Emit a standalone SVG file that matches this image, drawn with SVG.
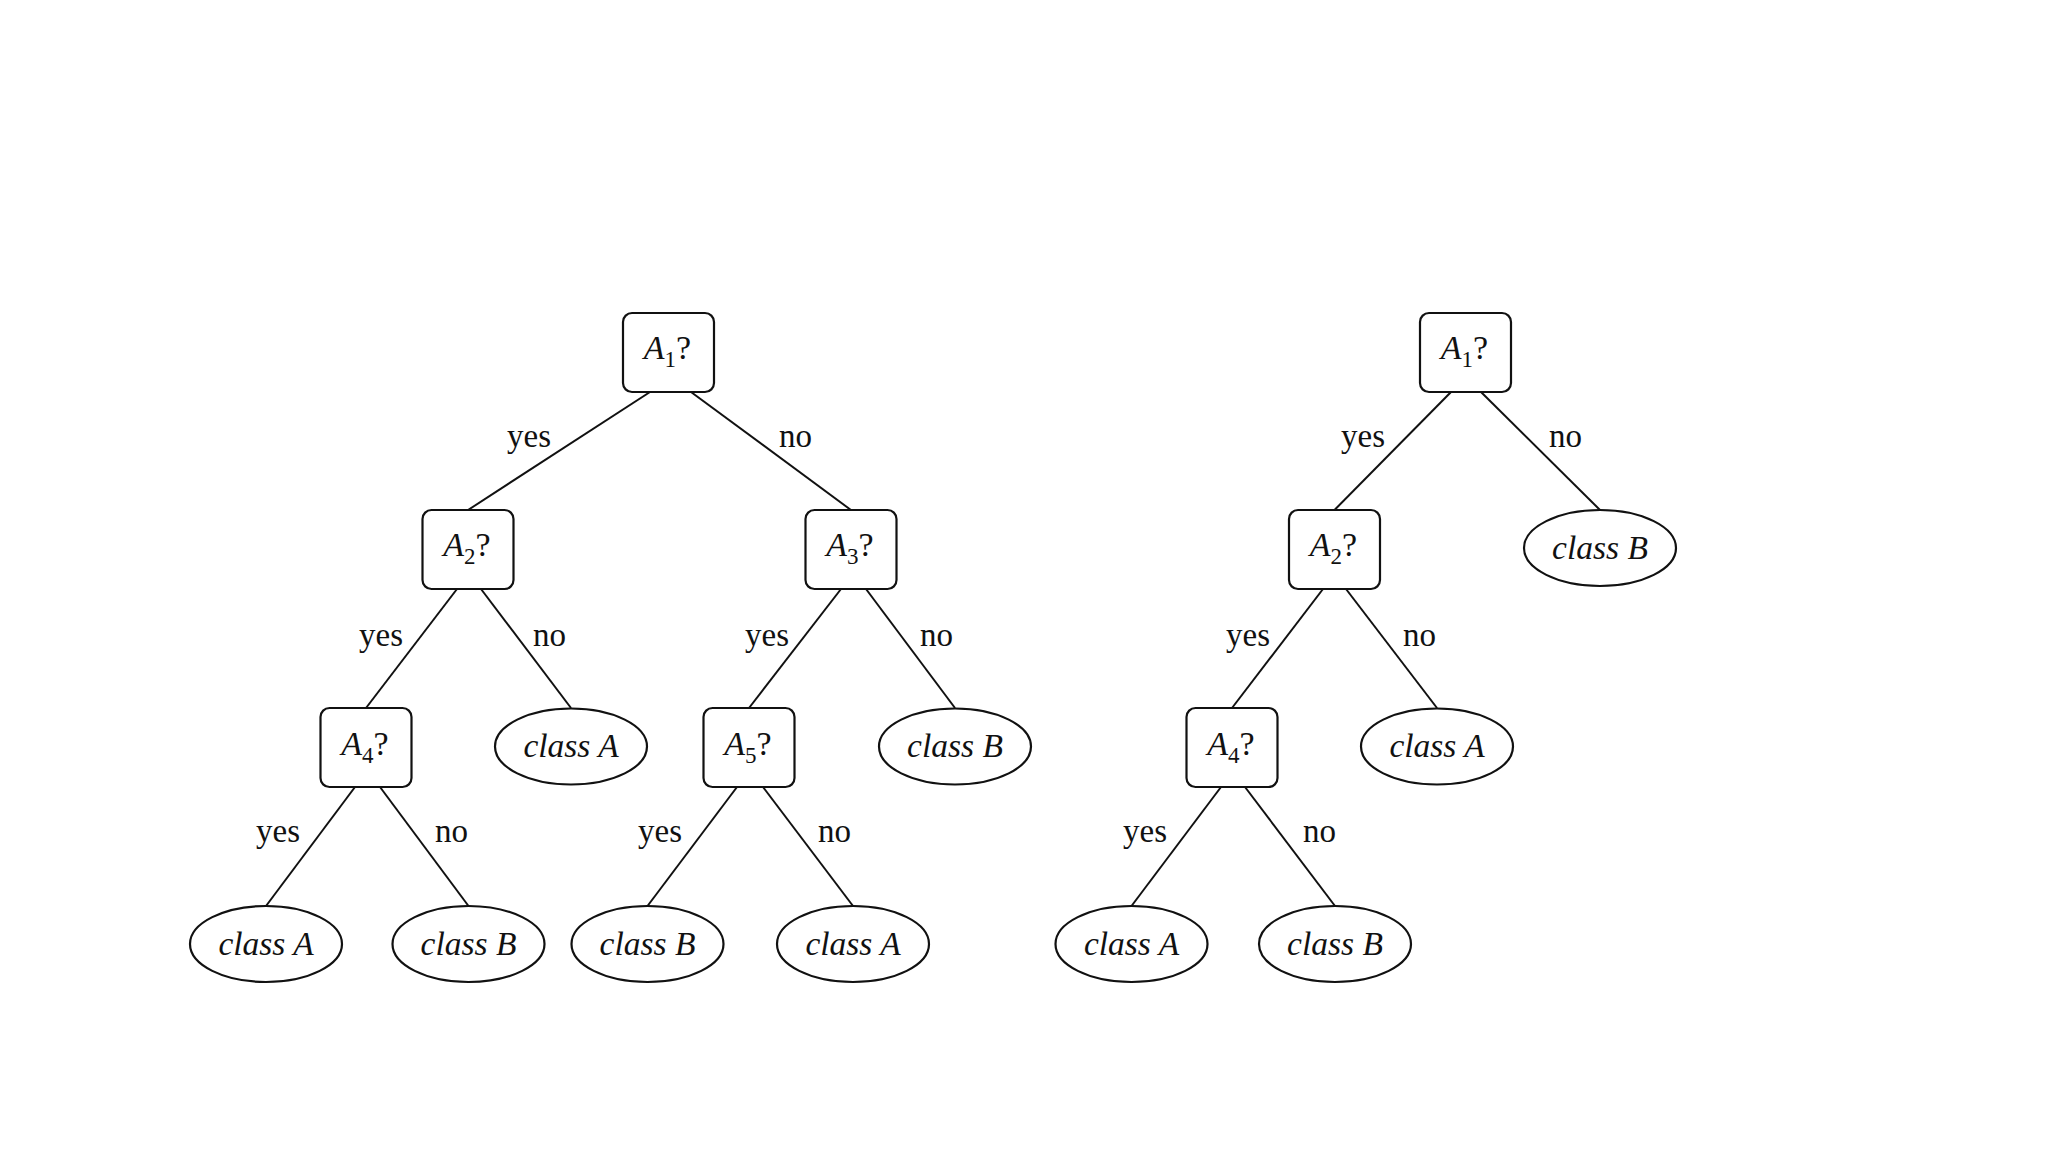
<svg xmlns="http://www.w3.org/2000/svg" width="2048" height="1152" viewBox="0 0 2048 1152">
<style>
.box{fill:#fff;stroke:#111;stroke-width:2.2}
.leaf{fill:#fff;stroke:#111;stroke-width:2.2}
.edge{stroke:#111;stroke-width:2;fill:none}
.t{font-family:"Liberation Serif","Times New Roman",serif;font-size:33px;fill:#111}
.q{text-anchor:middle;font-size:34px}
.lf{text-anchor:middle;font-style:italic;font-size:33.5px}
.sub{font-size:23px}
</style>
<rect width="2048" height="1152" fill="#fff"/>
<g id="connectors">
<line class="edge" x1="650" y1="392" x2="468" y2="510"/>
<line class="edge" x1="691" y1="392" x2="851" y2="510"/>
<line class="edge" x1="457" y1="589" x2="366" y2="708"/>
<line class="edge" x1="481" y1="589" x2="571" y2="708"/>
<line class="edge" x1="841" y1="589" x2="749" y2="708"/>
<line class="edge" x1="866" y1="589" x2="955" y2="708"/>
<line class="edge" x1="355" y1="787" x2="266" y2="906"/>
<line class="edge" x1="380" y1="787" x2="468.5" y2="906"/>
<line class="edge" x1="737" y1="787" x2="647.5" y2="906"/>
<line class="edge" x1="763" y1="787" x2="853" y2="906"/>
<line class="edge" x1="1451" y1="392" x2="1334.5" y2="510"/>
<line class="edge" x1="1481" y1="392" x2="1600" y2="510"/>
<line class="edge" x1="1323" y1="589" x2="1232" y2="708"/>
<line class="edge" x1="1346" y1="589" x2="1437" y2="708"/>
<line class="edge" x1="1221" y1="787" x2="1131.5" y2="906"/>
<line class="edge" x1="1245" y1="787" x2="1335" y2="906"/>
</g>
<g id="edge-labels" class="t">
<text x="507" y="447">yes</text>
<text x="779" y="447">no</text>
<text x="359" y="646">yes</text>
<text x="533" y="646">no</text>
<text x="745" y="646">yes</text>
<text x="920" y="646">no</text>
<text x="256" y="842">yes</text>
<text x="435" y="842">no</text>
<text x="638" y="842">yes</text>
<text x="818" y="842">no</text>
<text x="1341" y="447">yes</text>
<text x="1549" y="447">no</text>
<text x="1226" y="646">yes</text>
<text x="1403" y="646">no</text>
<text x="1123" y="842">yes</text>
<text x="1303" y="842">no</text>
</g>
<g id="L-A1"><rect class="box" x="623" y="313" width="91" height="79" rx="9"/><text class="t q" x="667.5" y="359"><tspan font-style="italic">A</tspan><tspan class="sub" dy="7.5">1</tspan><tspan dy="-7.5">?</tspan></text></g>
<g id="L-A2"><rect class="box" x="422.5" y="510" width="91" height="79" rx="9"/><text class="t q" x="467" y="556"><tspan font-style="italic">A</tspan><tspan class="sub" dy="7.5">2</tspan><tspan dy="-7.5">?</tspan></text></g>
<g id="L-A3"><rect class="box" x="805.5" y="510" width="91" height="79" rx="9"/><text class="t q" x="850" y="556"><tspan font-style="italic">A</tspan><tspan class="sub" dy="7.5">3</tspan><tspan dy="-7.5">?</tspan></text></g>
<g id="L-A4"><rect class="box" x="320.5" y="708" width="91" height="79" rx="9"/><text class="t q" x="365" y="755"><tspan font-style="italic">A</tspan><tspan class="sub" dy="7.5">4</tspan><tspan dy="-7.5">?</tspan></text></g>
<g id="L-A5"><rect class="box" x="703.5" y="708" width="91" height="79" rx="9"/><text class="t q" x="748" y="755"><tspan font-style="italic">A</tspan><tspan class="sub" dy="7.5">5</tspan><tspan dy="-7.5">?</tspan></text></g>
<g id="L-classA-1"><ellipse class="leaf" cx="571" cy="746.5" rx="76" ry="38"/><text class="t lf" x="571" y="757">class A</text></g>
<g id="L-classB-1"><ellipse class="leaf" cx="955" cy="746.5" rx="76" ry="38"/><text class="t lf" x="955" y="757">class B</text></g>
<g id="L-classA-2"><ellipse class="leaf" cx="266" cy="944" rx="76" ry="38"/><text class="t lf" x="266" y="955">class A</text></g>
<g id="L-classB-2"><ellipse class="leaf" cx="468.5" cy="944" rx="76" ry="38"/><text class="t lf" x="468.5" y="955">class B</text></g>
<g id="L-classB-3"><ellipse class="leaf" cx="647.5" cy="944" rx="76" ry="38"/><text class="t lf" x="647.5" y="955">class B</text></g>
<g id="L-classA-3"><ellipse class="leaf" cx="853" cy="944" rx="76" ry="38"/><text class="t lf" x="853" y="955">class A</text></g>
<g id="R-A1"><rect class="box" x="1420" y="313" width="91" height="79" rx="9"/><text class="t q" x="1464.5" y="359"><tspan font-style="italic">A</tspan><tspan class="sub" dy="7.5">1</tspan><tspan dy="-7.5">?</tspan></text></g>
<g id="R-A2"><rect class="box" x="1289" y="510" width="91" height="79" rx="9"/><text class="t q" x="1333.5" y="556"><tspan font-style="italic">A</tspan><tspan class="sub" dy="7.5">2</tspan><tspan dy="-7.5">?</tspan></text></g>
<g id="R-classB-1"><ellipse class="leaf" cx="1600" cy="548" rx="76" ry="38"/><text class="t lf" x="1600" y="559">class B</text></g>
<g id="R-A4"><rect class="box" x="1186.5" y="708" width="91" height="79" rx="9"/><text class="t q" x="1231" y="755"><tspan font-style="italic">A</tspan><tspan class="sub" dy="7.5">4</tspan><tspan dy="-7.5">?</tspan></text></g>
<g id="R-classA-1"><ellipse class="leaf" cx="1437" cy="746.5" rx="76" ry="38"/><text class="t lf" x="1437" y="757">class A</text></g>
<g id="R-classA-2"><ellipse class="leaf" cx="1131.5" cy="944" rx="76" ry="38"/><text class="t lf" x="1131.5" y="955">class A</text></g>
<g id="R-classB-2"><ellipse class="leaf" cx="1335" cy="944" rx="76" ry="38"/><text class="t lf" x="1335" y="955">class B</text></g>
</svg>
